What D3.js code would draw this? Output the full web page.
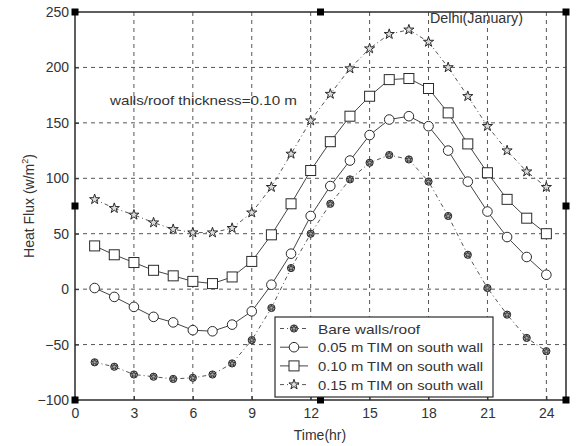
<!DOCTYPE html>
<html>
<head>
<meta charset="utf-8">
<script src="https://cdn.jsdelivr.net/npm/d3@7"></script>
<style>
  html, body { margin: 0; padding: 0; background: #fff; }
  svg { display: block; font-family: "Liberation Sans", Arial, sans-serif; }
</style>
</head>
<body>
<svg id="chart" width="578" height="446"></svg>
<script>
// Hourly heat flux through the building envelope, Delhi (January)
const hours = d3.range(1, 25);

const bare      = [-66, -70, -77, -79, -81, -80, -77, -67, -46, -17, 19, 50, 77, 99, 114, 121, 117, 97, 66, 31, 1, -23, -44, -56];
const tim005    = [1, -7, -16, -25, -30, -37, -38, -32, -20, 4, 32, 66, 93, 116, 139, 153, 156, 147, 125, 97, 70, 47, 29, 13];
const tim010    = [39, 31, 24, 17, 12, 7, 5, 11, 25, 49, 77, 107, 133, 156, 174, 189, 190, 181, 159, 131, 105, 81, 64, 50];
const tim015    = [81, 73, 67, 60, 54, 51, 51, 55, 69, 92, 122, 152, 176, 199, 217, 230, 234, 223, 200, 174, 147, 125, 106, 92];

const seriesNames = ["Bare walls/roof", "0.05 m TIM on south wall", "0.10 m TIM on south wall", "0.15 m TIM on south wall"];

const xTicks = [0, 3, 6, 9, 12, 15, 18, 21, 24];
const yTicks = [-100, -50, 0, 50, 100, 150, 200, 250];

// small square markers sitting on the frame
const frameMarkX = [0, 12.5, 25, 0, 25, 0, 12.5, 25];
const frameMarkY = [250, 250, 250, 75, 75, -100, -100, -100];

const svg = d3.select("#chart");
const plotL = 75, plotR = 566, plotT = 12, plotB = 400;

const x = d3.scaleLinear().domain([0, 25]).range([plotL, plotR]);
const y = d3.scaleLinear().domain([-100, 250]).range([plotB, plotT]);

const ink = "#2a2a2a";
const txt = "#333";

// grid
const grid = svg.append("g");
grid.selectAll("line.vx").data(xTicks.filter(t => t > 0)).join("line")
  .attr("x1", d => x(d)).attr("x2", d => x(d))
  .attr("y1", plotT).attr("y2", plotB)
  .attr("stroke", "#555").attr("stroke-width", 1).attr("stroke-dasharray", "4,4");
grid.selectAll("line.hy").data(yTicks.filter(t => t > -100 && t < 250)).join("line")
  .attr("x1", plotL).attr("x2", plotR)
  .attr("y1", d => y(d)).attr("y2", d => y(d))
  .attr("stroke", "#555").attr("stroke-width", 1).attr("stroke-dasharray", "4,4");

// axes with inward ticks
const xAxis = d3.axisBottom(x).tickValues(xTicks).tickSize(-4).tickPadding(8).tickFormat(d3.format("d"));
const yAxis = d3.axisLeft(y).tickValues(yTicks).tickSize(-4).tickPadding(6).tickFormat(d3.format("d"));

const gx = svg.append("g").attr("transform", `translate(0,${plotB})`).call(xAxis);
const gy = svg.append("g").attr("transform", `translate(${plotL},0)`).call(yAxis);
[gx, gy].forEach(g => {
  g.select(".domain").remove();
  g.selectAll(".tick line").attr("stroke", ink);
  g.selectAll(".tick text").attr("fill", txt).attr("font-size", 14)
    .attr("font-family", "'Liberation Sans', Arial, sans-serif");
});

// frame
svg.append("rect")
  .attr("x", plotL).attr("y", plotT)
  .attr("width", plotR - plotL).attr("height", plotB - plotT)
  .attr("fill", "none").attr("stroke", ink).attr("stroke-width", 1.5);

// series
const series = [
  { name: seriesNames[0], values: bare,   dash: "4,3,1,3", marker: "bare" },
  { name: seriesNames[1], values: tim005, dash: null,      marker: "circle" },
  { name: seriesNames[2], values: tim010, dash: null,      marker: "square" },
  { name: seriesNames[3], values: tim015, dash: "4,3,1,3", marker: "star" }
];

const line = d3.line().x(d => x(d[0])).y(d => y(d[1]));

function drawMarker(g, type) {
  if (type === "circle") {
    g.append("circle").attr("r", 4.8).attr("fill", "#fff").attr("stroke", ink).attr("stroke-width", 1);
  } else if (type === "square") {
    g.append("rect").attr("x", -5).attr("y", -5).attr("width", 10).attr("height", 10)
      .attr("fill", "#fff").attr("stroke", ink).attr("stroke-width", 1);
  } else if (type === "star") {
    g.append("path").attr("d", d3.symbol().type(d3.symbolStar).size(32)())
      .attr("fill", "#ddd").attr("stroke", ink).attr("stroke-width", 1);
  } else {
    g.append("circle").attr("r", 3.6).attr("fill", "#aaa").attr("stroke", ink).attr("stroke-width", 1);
    g.append("path").attr("d", d3.symbol().type(d3.symbolStar).size(12)())
      .attr("fill", "none").attr("stroke", ink).attr("stroke-width", 0.8);
  }
}

series.forEach(s => {
  const pts = hours.map((h, i) => [h, s.values[i]]);
  svg.append("path").datum(pts)
    .attr("d", line)
    .attr("fill", "none")
    .attr("stroke", s.dash ? "#555" : "#444")
    .attr("stroke-width", 1)
    .attr("stroke-dasharray", s.dash);
  svg.append("g").selectAll("g").data(pts).join("g")
    .attr("transform", d => `translate(${x(d[0])},${y(d[1])})`)
    .each(function() { drawMarker(d3.select(this), s.marker); });
});

// frame square markers
svg.append("g").selectAll("rect").data(frameMarkX.map((v, i) => [v, frameMarkY[i]])).join("rect")
  .attr("x", d => x(d[0]) - 3.5).attr("y", d => y(d[1]) - 3.5)
  .attr("width", 7).attr("height", 7).attr("fill", "#000");

// annotations
svg.append("text").attr("x", 110).attr("y", 105)
  .attr("font-size", 13.5).attr("fill", txt)
  .attr("textLength", 187).attr("lengthAdjust", "spacingAndGlyphs")
  .text("walls/roof thickness=0.10 m");
svg.append("text").attr("x", 430).attr("y", 23)
  .attr("font-size", 14).attr("fill", txt)
  .attr("textLength", 93).attr("lengthAdjust", "spacingAndGlyphs")
  .text("Delhi(January)");

// axis titles
svg.append("text").attr("x", 320).attr("y", 440)
  .attr("text-anchor", "middle").attr("font-size", 14).attr("fill", txt)
  .text("Time(hr)");
const yl = svg.append("text")
  .attr("transform", `translate(34,${(plotT + plotB) / 2}) rotate(-90)`)
  .attr("text-anchor", "middle").attr("font-size", 14).attr("fill", txt);
yl.append("tspan").text("Heat Flux (w/m");
yl.append("tspan").attr("font-size", 9).attr("dy", -6).text("2");
yl.append("tspan").attr("dy", 6).text(")");

// legend
const lg = svg.append("g").attr("transform", "translate(275,317)");
lg.append("rect").attr("width", 218).attr("height", 80)
  .attr("fill", "#fff").attr("stroke", ink).attr("stroke-width", 1.2);
series.forEach((s, i) => {
  const row = lg.append("g").attr("transform", `translate(0,${11.5 + i * 18.7})`);
  row.append("line").attr("x1", 5).attr("x2", 33).attr("y1", 0).attr("y2", 0)
    .attr("stroke", s.dash ? "#555" : "#444").attr("stroke-width", 1)
    .attr("stroke-dasharray", s.dash);
  const m = row.append("g").attr("transform", "translate(19,0)");
  drawMarker(m, s.marker);
  row.append("text").attr("x", 43).attr("y", 5)
    .attr("font-size", 13.5).attr("fill", txt)
    .attr("textLength", i === 0 ? 102 : 165).attr("lengthAdjust", "spacingAndGlyphs")
    .text(s.name);
});
</script>
</body>
</html>
